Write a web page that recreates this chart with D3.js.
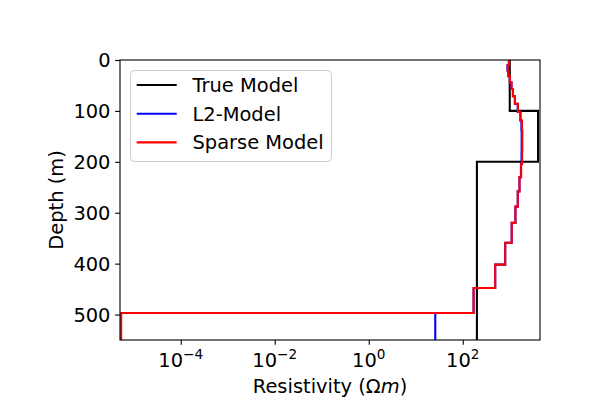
<!DOCTYPE html>
<html>
<head>
<meta charset="utf-8">
<script src="https://cdn.jsdelivr.net/npm/d3@7"></script>
<style>
  body { margin: 0; background: #fff; }
  text { font-family: "DejaVu Sans", sans-serif; fill: #000; }
</style>
</head>
<body>
<div id="plot"></div>
<script>
// Layer tops (m) shared by the inverted models
var layerTops = [0, 10, 21, 32, 44, 57, 71, 86, 102, 119, 138, 158, 180, 204, 230, 258, 288, 320, 359, 402, 448, 497];
var sparseValues = [970, 905, 940, 1010, 1090, 1170, 1290, 1490, 1700, 1820, 1850, 1850, 1830, 1750, 1610, 1480, 1320, 1100, 800, 490, 170, 5.4e-6];
var l2Values = [955, 895, 930, 1000, 1085, 1165, 1285, 1480, 1680, 1770, 1790, 1790, 1780, 1730, 1610, 1480, 1320, 1100, 800, 490, 170, 26];

// True model
var trueTops = [0, 100, 200];
var trueValues = [1000, 4000, 200];

var maxDepth = 550;
var xTicks = [1e-4, 1e-2, 1e0, 1e2];
var xTickExp = ["\u22124", "\u22122", "0", "2"];
var yTicks = [0, 100, 200, 300, 400, 500];
var seriesNames = ["True Model", "L2-Model", "Sparse Model"];
var seriesColors = ["black", "blue", "red"];

var svgWidth = 600, svgHeight = 400;
var margin = { top: 60, right: 60, bottom: 60, left: 120 };
var fs = 19.44;

var svg = d3.select("#plot").append("svg")
  .attr("width", svgWidth)
  .attr("height", svgHeight);

var x = d3.scaleLog()
  .domain([5.1e-6, 4400])
  .range([margin.left, svgWidth - margin.right]);

var y = d3.scaleLinear()
  .domain([0, maxDepth])
  .range([margin.top, svgHeight - margin.bottom]);

// build step profile points: vertical first, then horizontal
function profile(tops, vals) {
  var pts = tops.map((t, i) => [vals[i], t]);
  pts.push([vals[vals.length - 1], maxDepth]);
  return pts;
}

var line = d3.line()
  .x(d => x(d[0]))
  .y(d => y(d[1]))
  .curve(d3.curveStepBefore);

var plotArea = svg.append("g");
plotArea.append("clipPath").attr("id", "clip")
  .append("rect")
  .attr("x", margin.left).attr("y", margin.top)
  .attr("width", svgWidth - margin.left - margin.right)
  .attr("height", svgHeight - margin.top - margin.bottom);

var curves = [profile(trueTops, trueValues), profile(layerTops, l2Values), profile(layerTops, sparseValues)];
curves.forEach(function(c, i) {
  plotArea.append("path")
    .attr("d", line(c))
    .attr("fill", "none")
    .attr("stroke", seriesColors[i])
    .attr("stroke-width", 2.08)
    .attr("clip-path", "url(#clip)");
});

// axes
var bottomAxis = d3.axisBottom(x).tickValues(xTicks).tickSize(4.86).tickFormat("");
var leftAxis = d3.axisLeft(y).tickValues(yTicks).tickSize(4.86).tickFormat("");

var gx = svg.append("g")
  .attr("transform", `translate(0, ${svgHeight - margin.bottom})`)
  .call(bottomAxis);
var gy = svg.append("g")
  .attr("transform", `translate(${margin.left}, 0)`)
  .call(leftAxis);
[gx, gy].forEach(function(g) {
  g.select(".domain").remove();
  g.selectAll(".tick line").attr("stroke", "#000").attr("stroke-width", 1.1);
});

// x tick labels with exponents
xTicks.forEach(function(t, i) {
  var txt = svg.append("text")
    .attr("x", x(t))
    .attr("y", 367)
    .attr("text-anchor", "middle")
    .style("font-size", fs + "px");
  txt.append("tspan").text("10");
  txt.append("tspan")
    .attr("dy", -8)
    .style("font-size", (fs * 0.7) + "px")
    .text(xTickExp[i]);
});

yTicks.forEach(function(t) {
  svg.append("text")
    .attr("x", 110.5)
    .attr("y", y(t) + 7)
    .attr("text-anchor", "end")
    .style("font-size", fs + "px")
    .text(t);
});

// frame
svg.append("rect")
  .attr("x", margin.left).attr("y", margin.top)
  .attr("width", svgWidth - margin.left - margin.right)
  .attr("height", svgHeight - margin.top - margin.bottom)
  .attr("fill", "none")
  .attr("stroke", "#000")
  .attr("stroke-width", 1.1);

// axis labels
var xl = svg.append("text")
  .attr("x", (margin.left + svgWidth - margin.right) / 2)
  .attr("y", 393)
  .attr("text-anchor", "middle")
  .style("font-size", fs + "px");
xl.append("tspan").text("Resistivity (\u03A9");
xl.append("tspan").style("font-style", "italic").text("m");
xl.append("tspan").text(")");

svg.append("text")
  .attr("transform", `translate(62.5, ${(margin.top + svgHeight - margin.bottom) / 2}) rotate(-90)`)
  .attr("text-anchor", "middle")
  .style("font-size", fs + "px")
  .text("Depth (m)");

// legend
var legend = svg.append("g");
legend.append("rect")
  .attr("x", 130.5).attr("y", 70.5)
  .attr("width", 201).attr("height", 91)
  .attr("rx", 4).attr("ry", 4)
  .attr("fill", "white").attr("fill-opacity", 0.8)
  .attr("stroke", "#cccccc").attr("stroke-width", 1);

seriesNames.forEach(function(name, i) {
  var ly = 85 + i * 28.7;
  legend.append("line")
    .attr("x1", 136.7).attr("x2", 176.7)
    .attr("y1", ly).attr("y2", ly)
    .attr("stroke", seriesColors[i])
    .attr("stroke-width", 2.08);
  legend.append("text")
    .attr("x", 192.5)
    .attr("y", ly + 7)
    .style("font-size", fs + "px")
    .text(name);
});
</script>
</body>
</html>
